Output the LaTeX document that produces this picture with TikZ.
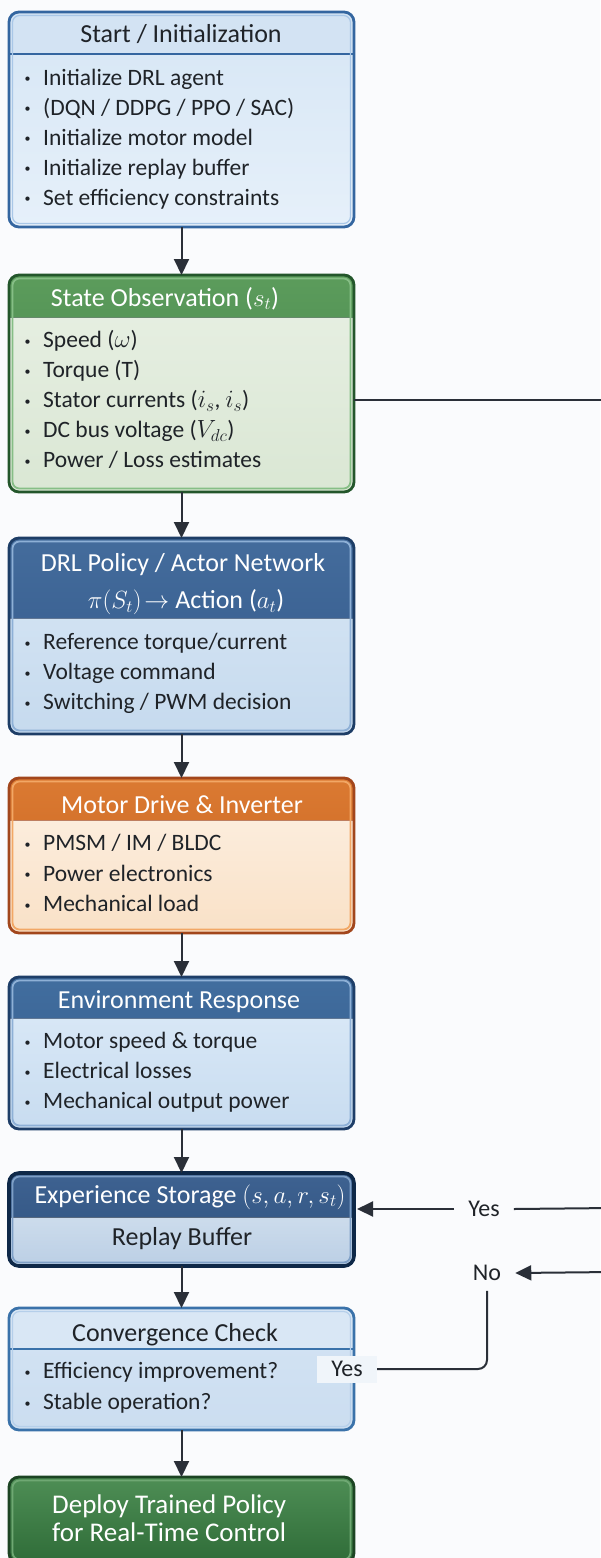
\documentclass[tikz,border=0pt]{standalone}
\usepackage{fontspec}
\setmainfont{Carlito}
\usetikzlibrary{arrows.meta,calc}

% palette
\definecolor{bg}{HTML}{FAFBFD}
\definecolor{txt}{HTML}{1F2328}
\definecolor{arrowc}{HTML}{2A2F38}
\definecolor{yesbg}{HTML}{F0F5FA}
% start
\definecolor{startB}{HTML}{3466A0}
\definecolor{startH}{HTML}{D3E3F3}
\definecolor{startT}{HTML}{D6E6F5}
\definecolor{startL}{HTML}{E6F0FA}
\definecolor{startI}{HTML}{A9C7E7}
% state
\definecolor{stateB}{HTML}{23562B}
\definecolor{stateHT}{HTML}{5C9C5C}
\definecolor{stateHB}{HTML}{3F7F45}
\definecolor{stateT}{HTML}{E8F0E4}
\definecolor{stateL}{HTML}{DAE7D4}
\definecolor{stateI}{HTML}{86BE86}
% policy
\definecolor{drlB}{HTML}{1D3D66}
\definecolor{drlHT}{HTML}{446C9C}
\definecolor{drlHB}{HTML}{32588A}
\definecolor{drlT}{HTML}{D8E7F5}
\definecolor{drlL}{HTML}{C6DAEE}
\definecolor{drlI}{HTML}{8EB0D6}
% motor
\definecolor{motB}{HTML}{A2461C}
\definecolor{motHT}{HTML}{DB7A32}
\definecolor{motHB}{HTML}{C6621F}
\definecolor{motT}{HTML}{FDF1E4}
\definecolor{motL}{HTML}{F9E1C7}
\definecolor{motI}{HTML}{F2A765}
% environment
\definecolor{envB}{HTML}{1E3E68}
\definecolor{envHT}{HTML}{426E9F}
\definecolor{envHB}{HTML}{31598A}
\definecolor{envT}{HTML}{DDEBF8}
\definecolor{envL}{HTML}{C8DCF0}
\definecolor{envI}{HTML}{8EB0D6}
% experience
\definecolor{expB}{HTML}{0E2848}
\definecolor{expHT}{HTML}{3E6291}
\definecolor{expHB}{HTML}{2E517E}
\definecolor{expT}{HTML}{DCE7F2}
\definecolor{expL}{HTML}{BBCFE5}
\definecolor{expI}{HTML}{7E9FC6}
% convergence
\definecolor{convB}{HTML}{3A72AA}
\definecolor{convH}{HTML}{D9E7F5}
\definecolor{convT}{HTML}{D4E4F4}
\definecolor{convL}{HTML}{CBDDF0}
\definecolor{convI}{HTML}{B5CFEA}
% deploy
\definecolor{depB}{HTML}{1C4423}
\definecolor{depT}{HTML}{4E8E55}
\definecolor{depL}{HTML}{2F6C38}
\definecolor{depI}{HTML}{6FA873}

% one stage box with a coloured title band
% #1 name, #2 top, #3 bottom, #4 band height, #5 style prefix
\newcommand\panel[5]{%
  \node[panel,#5box,minimum height={#3-#2},
    path picture={
      \shade[sharp corners,#5head] (path picture bounding box.north west)
        rectangle ([yshift={-#4}]path picture bounding box.north east);
      \draw[sharp corners,#5sep] ([yshift={-#4}]path picture bounding box.north west)
        -- ([yshift={-#4}]path picture bounding box.north east);}]
    (#1) at (181.5,{-(#2+#3)/2}) {};
  \draw[#5inner,rounded corners=7] ([shift={(3.5,-3.5)}]#1.north west)
    rectangle ([shift={(-3.5,3.5)}]#1.south east);}

% bullet mark followed by the item text
\newcommand\pt[1]{\makebox[19.5pt][l]{\hspace{1pt}\raisebox{2.5pt}{\fontsize{12}{12}\selectfont\textbullet}}#1}

\begin{document}
\begin{tikzpicture}[x=1pt,y=1pt,
  panel/.style={rectangle,rounded corners=10,minimum width=345,line width=2.8,inner sep=0,outer sep=0},
  flow/.style={draw=arrowc,line width=2,-{Triangle[width=15pt,length=16pt]}},
  link/.style={draw=arrowc,line width=2},
  bul/.style={anchor=mid west,inner sep=0,text=txt,font=\fontsize{23.5}{28}\selectfont},
  ttl/.style={inner sep=0,font=\fontsize{26}{30}\selectfont},
  dark/.style={ttl,text=white},
  light/.style={ttl,text=txt},
  lbl/.style={inner sep=0,text=txt,font=\fontsize{24}{28}\selectfont},
  startbox/.style={draw=startB,top color=startT,bottom color=startL},
  starthead/.style={top color=startH,bottom color=startH},
  startsep/.style={draw=startB,line width=1.6},
  startinner/.style={draw=startI,line width=1.2},
  statebox/.style={draw=stateB,top color=stateT,bottom color=stateL},
  statehead/.style={top color=stateHT,bottom color=stateHB},
  statesep/.style={draw=stateB!70,line width=1},
  stateinner/.style={draw=stateI,line width=1.8},
  drlbox/.style={draw=drlB,top color=drlT,bottom color=drlL},
  drlhead/.style={top color=drlHT,bottom color=drlHB},
  drlsep/.style={draw=drlB!70,line width=1},
  drlinner/.style={draw=drlI,line width=1.8},
  motbox/.style={draw=motB,top color=motT,bottom color=motL},
  mothead/.style={top color=motHT,bottom color=motHB},
  motsep/.style={draw=motB!70,line width=1},
  motinner/.style={draw=motI,line width=1.8},
  envbox/.style={draw=envB,top color=envT,bottom color=envL},
  envhead/.style={top color=envHT,bottom color=envHB},
  envsep/.style={draw=envB!70,line width=1},
  envinner/.style={draw=envI,line width=1.8},
  expbox/.style={draw=expB,line width=3.6,top color=expT,bottom color=expL},
  exphead/.style={top color=expHT,bottom color=expHB},
  expsep/.style={draw=expB!70,line width=1},
  expinner/.style={draw=expI,line width=1.8},
  convbox/.style={draw=convB,top color=convT,bottom color=convL},
  convhead/.style={top color=convH,bottom color=convH},
  convsep/.style={draw=convB,line width=1.6},
  convinner/.style={draw=convI,line width=1.2},
]
\fill[bg] (0,0) rectangle (600,-1558);
\useasboundingbox (0,0) rectangle (600,-1558);

% stage boxes
\panel{start}{12}{227}{42}{start}
\panel{state}{275}{492}{42}{state}
\panel{drl}{538}{734}{80}{drl}
\panel{motor}{778}{933}{42}{mot}
\panel{env}{977}{1129}{41}{env}
\panel{exp}{1173}{1266}{44}{exp}
\panel{conv}{1308}{1430}{41}{conv}
\node[panel,draw=depB,top color=depT,bottom color=depL,minimum height=86]
  (deploy) at (181.5,-1520) {};
\draw[draw=depI,line width=1.8,rounded corners=7]
  ([shift={(3.5,-3.5)}]deploy.north west) rectangle ([shift={(-3.5,3.5)}]deploy.south east);

% titles
\node[light] (startT) at (181,-34) {Start / Initialization};
\node[dark] (stateT) at (165,-298.5) {State Observation ($s_t$)};
\node[dark] (drlT1) at (183,-565) {DRL Policy / Actor Network};
\node[dark] (drlT2) at (186,-602) {$\pi(S_t)\!\rightarrow$ Action ($a_t$)};
\node[dark] (motT) at (182,-804.5) {Motor Drive \& Inverter};
\node[dark] (envT) at (179,-1001.5) {Environment Response};
\node[dark] (expT) at (190,-1197) {Experience Storage $(s, a, r, s_t)$};
\node[light] (expR) at (182,-1239) {Replay Buffer};
\node[light] (convT) at (175,-1334.5) {Convergence Check};
\node[dark,font=\fontsize{27}{31}\selectfont,anchor=mid west] (dep1) at (52,-1511) {Deploy Trained Policy};
\node[dark,font=\fontsize{27}{31}\selectfont,anchor=mid west] (dep2) at (52,-1539) {for Real-Time Control};

% bullet lists
\foreach \t [count=\k] in {Initialize DRL agent,(DQN / DDPG / PPO / SAC),
    Initialize motor model,Initialize replay buffer,Set efficiency constraints}
  \node[bul] (start-\k) at (23.5,{-83-30*(\k-1)}) {\pt{\t}};
\foreach \t [count=\k] in {Speed ($\omega$),Torque (T),Stator currents ($i_s$\rlap{,} \ $i_s$),
    DC bus voltage ($V_{dc}$),Power / Loss estimates}
  \node[bul] (state-\k) at (23.5,{-345.5-30*(\k-1)}) {\pt{\t}};
\foreach \t [count=\k] in {Reference torque/current,Voltage command,Switching / PWM decision}
  \node[bul] (drl-\k) at (23.5,{-647.5-30*(\k-1)}) {\pt{\t}};
\foreach \t [count=\k] in {PMSM / IM / BLDC,Power electronics,Mechanical load}
  \node[bul] (motor-\k) at (23.5,{-848.5-30.5*(\k-1)}) {\pt{\t}};
\foreach \t [count=\k] in {Motor speed \& torque,Electrical losses,Mechanical output power}
  \node[bul] (env-\k) at (23.5,{-1046.5-30*(\k-1)}) {\pt{\t}};
\foreach \t [count=\k] in {Efficiency improvement?,Stable operation?}
  \node[bul] (conv-\k) at (23.5,{-1376.5-31*(\k-1)}) {\pt{\t}};

% main flow
\draw[flow] (start) -- (state);
\draw[flow] (state) -- (drl);
\draw[flow] (drl) -- (motor);
\draw[flow] (motor) -- (env);
\draw[flow] (env) -- (exp);
\draw[flow] (exp) -- (conv);
\draw[flow] (conv) -- (deploy);

% feedback paths on the right
\coordinate (r1) at (612,-400);
\coordinate (r2) at (612,-1208);
\coordinate (r3) at (612,-1272);
\draw[link] (state.east |- r1) -- (r1);

\node[lbl,inner xsep=14] (yes1) at (484,-1209) {Yes};
\draw[link] (r2) -- (yes1.east);
\draw[flow,shorten >=3pt] (yes1.west) -- (exp.east |- yes1.west);

\node[lbl,inner xsep=14,inner ysep=10] (no) at (487,-1273) {No};
\draw[flow] (r3) -- (no.east);

\node[lbl,fill=yesbg,minimum width=60,minimum height=27] (yes2) at (347,-1369) {Yes};
\draw[link,rounded corners=9] (yes2.east) -| (no.south);
\end{tikzpicture}
\end{document}
